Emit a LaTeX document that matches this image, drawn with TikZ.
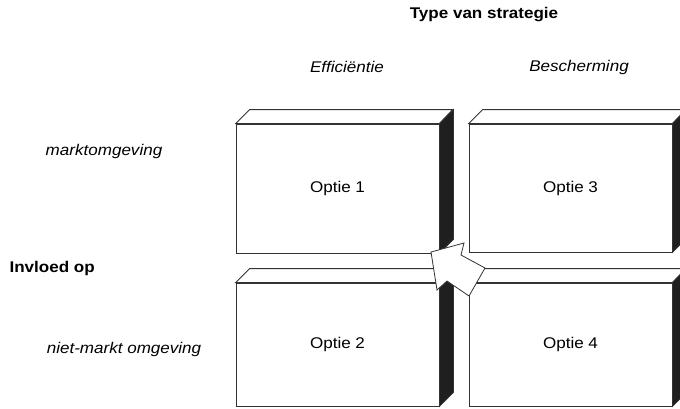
\documentclass[tikz,border=0pt]{standalone}
\usepackage{fontspec}
\setmainfont[FakeStretch=1.1]{Liberation Sans}
\usetikzlibrary{positioning}

\begin{document}
\begin{tikzpicture}[x=1pt,y=-1pt,
		front/.style={draw=black!80,line width=0.8pt,fill=white,minimum width=203pt,inner sep=0pt,font=\fontsize{15.5}{18}\selectfont},
		topface/.style={draw=black!80,line width=0.8pt,fill=white},
		sideface/.style={draw=black!80,line width=0.8pt,fill=black!88},
		kop/.style={font=\fontsize{15.5}{18}\selectfont\bfseries},
		soort/.style={font=\fontsize{15.5}{18}\selectfont\itshape}]
		\useasboundingbox (0,0) rectangle (680,408);
		% koppen
		\node[kop] (type) at (484,15) {Type van strategie};
		\node[soort] (eff) at (347,67) {Efficiëntie};
		\node[soort] (besch) at (579,67) {Bescherming};
		\node[soort] (markt) at (104,151) {marktomgeving};
		\node[kop,anchor=west] (invloed) at (6,268) {Invloed op};
		\node[soort] (nietmarkt) at (124,349) {niet-markt omgeving};
		% blokken
		\node[front,minimum height=129pt] (opt1) at (337.5,188.5) {Optie 1};
		\node[front,minimum height=123pt] (opt2) at (337.5,344.5) {Optie 2};
		\node[front,minimum height=128pt] (opt3) at (570.5,188) {Optie 3};
		\node[front,minimum height=123pt] (opt4) at (570.5,344.5) {Optie 4};
		\draw[topface] (opt1.north west) -- ++(14,-14) -- ++(203,0) -- (opt1.north east) -- cycle;
		\draw[sideface] (opt1.north east) -- ++(14,-14) -- ([shift={(14,-14)}]opt1.south east) -- (opt1.south east) -- cycle;
		\draw[topface] (opt2.north west) -- ++(14,-14) -- ++(203,0) -- (opt2.north east) -- cycle;
		\draw[sideface] (opt2.north east) -- ++(14,-14) -- ([shift={(14,-14)}]opt2.south east) -- (opt2.south east) -- cycle;
		\draw[topface] (opt3.north west) -- ++(14,-14) -- ++(203,0) -- (opt3.north east) -- cycle;
		\draw[sideface] (opt3.north east) -- ++(14,-14) -- ([shift={(14,-14)}]opt3.south east) -- (opt3.south east) -- cycle;
		\draw[topface] (opt4.north west) -- ++(14,-14) -- ++(203,0) -- (opt4.north east) -- cycle;
		\draw[sideface] (opt4.north east) -- ++(14,-14) -- ([shift={(14,-14)}]opt4.south east) -- (opt4.south east) -- cycle;
		% pijl
		\draw[topface] (431,252) -- (464,243) -- (461,255) -- (485,268) -- (469,296) -- (447,281) -- (437,290) -- cycle;
	\end{tikzpicture}
\end{document}
